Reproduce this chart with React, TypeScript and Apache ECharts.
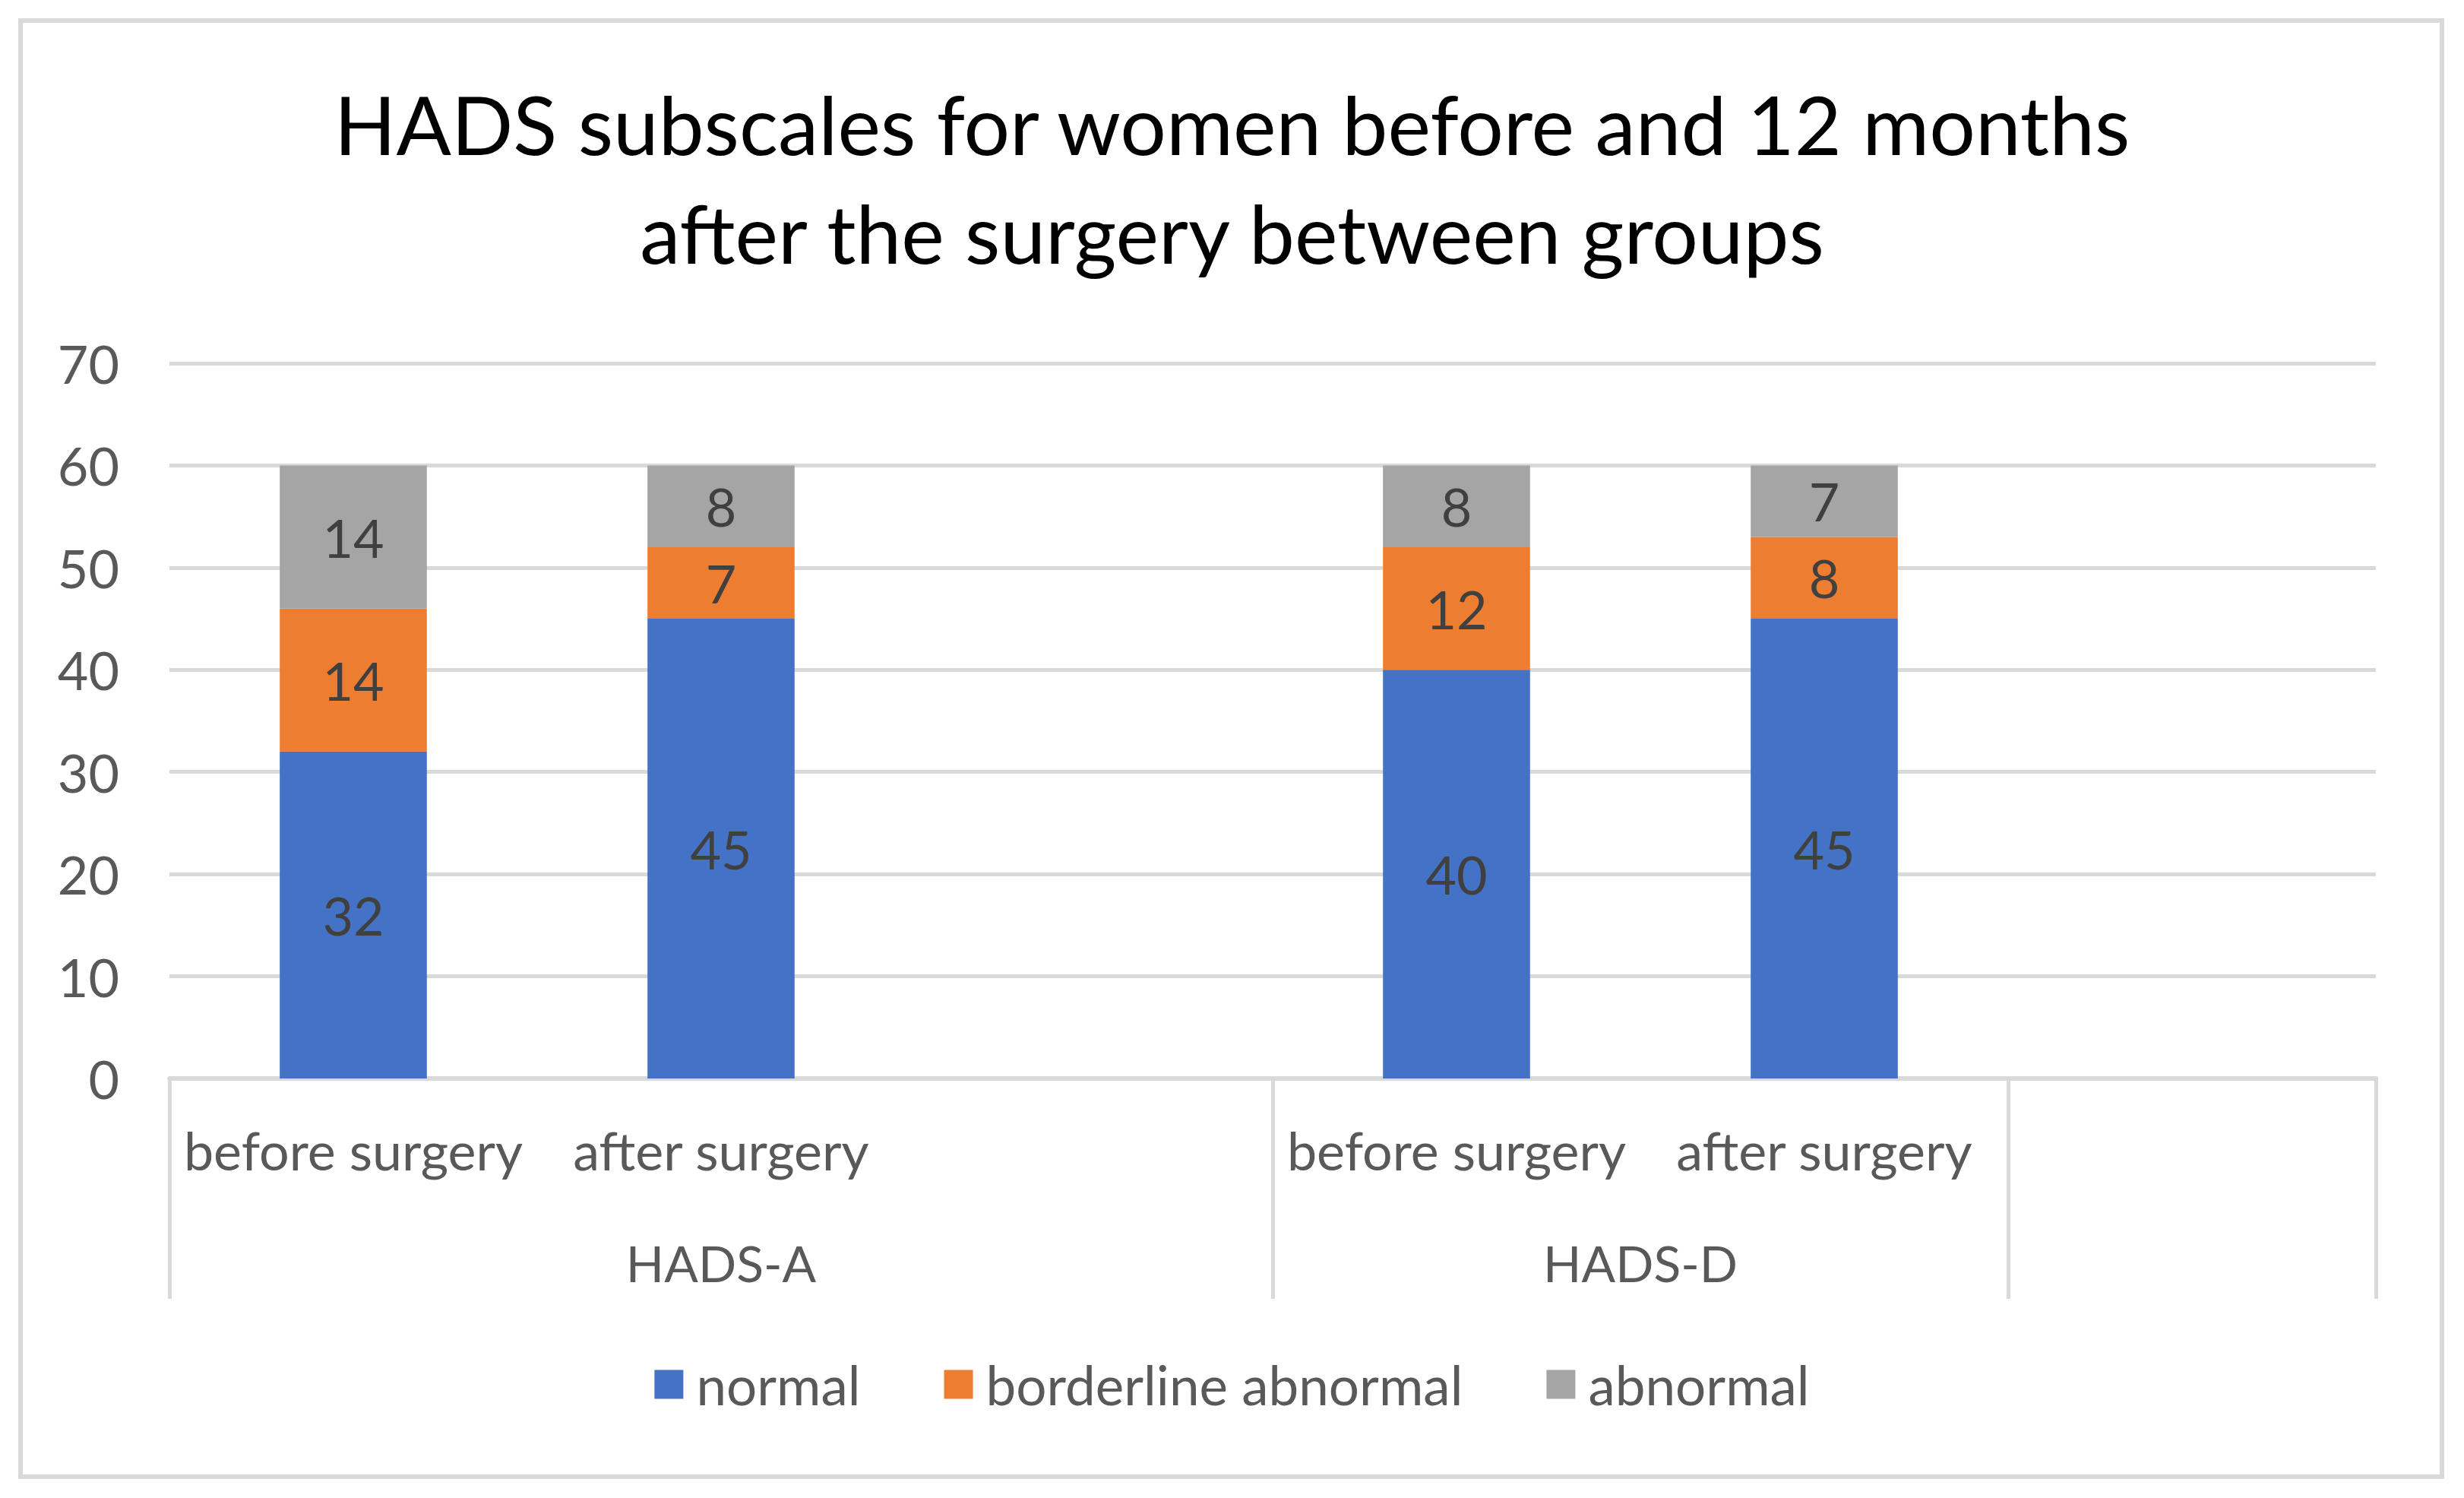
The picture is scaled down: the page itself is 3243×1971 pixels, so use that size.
import React, { useEffect, useRef } from "react";
import * as echarts from "echarts";

const categories = ["before surgery", "after surgery", "", "before surgery", "after surgery", ""];
const groupNames = ["HADS-A", "HADS-D"];
const groupSpans = [3, 2];
const seriesNames = ["normal", "borderline abnormal", "abnormal"];
const normalValues = [32, 45, null, 40, 45, null];
const borderlineValues = [14, 7, null, 12, 8, null];
const abnormalValues = [14, 8, null, 8, 7, null];
const yMin = 0;
const yMax = 70;
const yInterval = 10;
const titleText = "HADS subscales for women before and 12 months\nafter the surgery between groups";

const colors = ["#4472C4", "#ED7D31", "#A5A5A5"];
const FONT = "Lato";

export default function App() {
  const ref = useRef<HTMLDivElement>(null);
  useEffect(() => {
    if (!ref.current) return;
    const chart = echarts.init(ref.current, undefined, { renderer: "svg" });

    const boundaries: number[] = [0];
    const centers: number[] = [];
    let acc = 0;
    groupSpans.forEach((s) => {
      centers.push(acc + s / 2);
      acc += s;
      boundaries.push(acc);
    });
    if (acc < categories.length) boundaries.push(categories.length);

    const seriesData = [normalValues, borderlineValues, abnormalValues];

    chart.setOption({
      animation: false,
      backgroundColor: "#ffffff",
      title: {
        text: titleText,
        left: "center",
        top: 91,
        padding: 0,
        textStyle: {
          fontFamily: FONT,
          fontSize: 107,
          lineHeight: 143,
          fontWeight: "normal",
          color: "#000000",
          align: "center",
        },
      },
      legend: {
        data: seriesNames,
        left: "center",
        top: 1786,
        padding: 0,
        icon: "rect",
        itemWidth: 38,
        itemHeight: 38,
        itemGap: 110,
        textStyle: {
          fontFamily: FONT,
          fontSize: 71,
          color: "#595959",
          padding: [0, 0, 0, 12],
        },
      },
      grid: {
        left: 223,
        right: 116,
        top: 478,
        bottom: 552,
        containLabel: false,
      },
      xAxis: [
        {
          type: "category",
          data: categories,
          position: "bottom",
          axisLine: { show: true, lineStyle: { color: "#D9D9D9", width: 6 } },
          axisTick: { show: false },
          axisLabel: {
            interval: 0,
            fontFamily: FONT,
            fontSize: 70,
            lineHeight: 70,
            color: "#595959",
            margin: 59,
          },
          splitLine: { show: false },
        },
        {
          type: "value",
          min: 0,
          max: categories.length,
          position: "bottom",
          axisLine: { show: false },
          splitLine: { show: false },
          axisTick: {
            show: true,
            customValues: boundaries,
            length: 290,
            lineStyle: { color: "#D9D9D9", width: 5 },
          },
          axisLabel: {
            show: true,
            customValues: centers,
            formatter: (v: number) => {
              const i = centers.indexOf(v);
              return i >= 0 ? groupNames[i] : "";
            },
            fontFamily: FONT,
            fontSize: 66,
            lineHeight: 70,
            color: "#595959",
            margin: 207,
          },
        },
      ],
      yAxis: {
        type: "value",
        min: yMin,
        max: yMax,
        interval: yInterval,
        axisLine: { show: false },
        axisTick: { show: false },
        axisLabel: {
          fontFamily: FONT,
          fontSize: 70,
          color: "#595959",
          margin: 66,
        },
        splitLine: { show: true, lineStyle: { color: "#D9D9D9", width: 5 } },
      },
      graphic: [
        {
          type: "rect",
          shape: { x: 27, y: 27, width: 3187, height: 1916 },
          style: { fill: "none", stroke: "#D9D9D9", lineWidth: 6 },
          silent: true,
          z: -10,
        },
      ],
      series: seriesNames.map((name, i) => ({
        name,
        type: "bar",
        stack: "total",
        xAxisIndex: 0,
        barWidth: "40%",
        data: seriesData[i],
        itemStyle: { color: colors[i] },
        label: {
          show: true,
          position: "inside",
          fontFamily: FONT,
          fontSize: 70,
          color: "#404040",
        },
      })),
    });

    return () => {
      chart.dispose();
    };
  }, []);

  return (
    <div
      ref={ref}
      style={{ position: "fixed", left: 0, top: 0, width: 3243, height: 1971, background: "#fff" }}
    />
  );
}
